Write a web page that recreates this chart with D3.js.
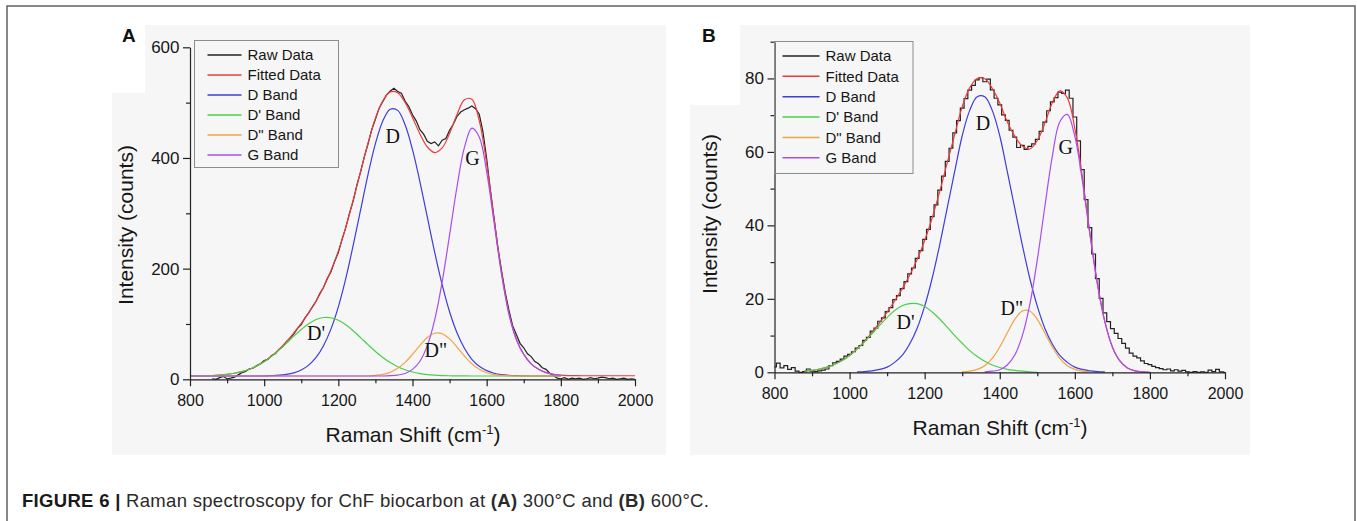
<!DOCTYPE html>
<html>
<head>
	<title>Raman spectroscopy for ChF biocarbon</title>
	<meta charset="utf-8">
	<style>
		body { margin: 0; background: #fff; }
		svg { display: block; font-family: "Liberation Sans", Arial, sans-serif; }
		.axis path, .axis line { stroke: #222; stroke-width: 1.2px; }
		.axis text { font-family: "Liberation Sans", Arial, sans-serif; font-size: 16px; fill: #161616; }
		.axis.yaxis text { font-size: 17px; }
		.line { fill: none; stroke-width: 1.2px; }
		.peak { font-family: "Liberation Serif", "Times New Roman", serif; font-size: 20px; fill: #111; }
		.title { font-size: 21px; fill: #161616; }
		.legend text { font-size: 15px; fill: #161616; }
	</style>
	<script src="https://cdn.jsdelivr.net/npm/d3@7"></script>
</head>
<body>
<svg width="1357" height="521"></svg>
<script>

	// Raman shift grid of the fitted curves (cm-1)
	var shiftGrid = [
		800, 820, 840, 860, 880, 900, 920, 940, 960, 980,
		1000, 1020, 1040, 1060, 1080, 1100, 1120, 1140, 1160, 1180,
		1200, 1220, 1240, 1260, 1280, 1300, 1320, 1340, 1360, 1380,
		1400, 1420, 1440, 1460, 1480, 1500, 1520, 1540, 1560, 1580,
		1600, 1620, 1640, 1660, 1680, 1700, 1720, 1740, 1760, 1780,
		1800, 1820, 1840, 1860, 1880, 1900, 1920, 1940, 1960, 1980,
		2000];

	// panel A, 300 C
	var fitA = [
		6.1, 6.3, 6.5, 6.9, 7.7, 8.9, 10.9, 13.9, 18.2, 24.1,
		32, 42, 54, 68, 84, 101, 120, 141.5, 166.4, 196,
		231.7, 274.6, 323.8, 375.4, 426.6, 471.5, 503.4, 519.5, 518, 500.3,
		473.3, 443.4, 419.8, 409.7, 418.1, 444.4, 478.4, 505.2, 506.1, 467.5,
		390, 290, 193.5, 119.5, 72.5, 45, 28, 18, 12, 9,
		7.5, 6.8, 6.5, 6.4, 6.4, 6.4, 6.4, 6.4, 6.4, 6.4,
		6.4];
	var dBandA = [
		6, 6, 6, 6, 6, 6, 6, 6, 6, 6,
		6, 6.6, 7.4, 8.9, 11.7, 16.8, 25.6, 39.5, 60.7, 90.7,
		131, 182, 242, 306, 370, 426, 467, 488, 486, 460,
		415, 357, 293, 229, 171, 122, 84, 56, 36, 23.4,
		15.6, 11, 8.5, 7.2, 6.5, 6.2, 6, 6, 6, 6,
		6, null, null, null, null, null, null, null, null, null,
		null];
	var d1BandA = [
		6.1, 6.3, 6.5, 6.9, 7.7, 8.9, 10.9, 13.9, 18.2, 24.1,
		31.9, 41.4, 52.7, 65.1, 78, 90, 100.4, 108, 111.7, 111.2,
		106.7, 98.6, 87.8, 75.4, 62.6, 50.3, 39.4, 30.2, 22.7, 17.2,
		13.2, 10.4, 8.6, 7.5, 6.8, 6.4, 6.2, 6.1, 6, 6,
		6, 6, 6, 6, 6, 6, 6, 6, 6, 6,
		6, null, null, null, null, null, null, null, null, null,
		null];
	var d2BandA = [
		6, 6, 6, 6, 6, 6, 6, 6, 6, 6,
		6, 6, 6, 6, 6, 6, 6, 6, 6, 6,
		6, 6, 6, 6, 6, 7.2, 9, 12.8, 19.8, 30.6,
		45.2, 61.4, 75.4, 83.2, 82.3, 73, 58.2, 42.1, 28.1, 18.1,
		11.8, 8.5, 7, 6.3, 6, 6, 6, 6, 6, 6,
		6, null, null, null, null, null, null, null, null, null,
		null];
	var gBandA = [
		6, 6, 6, 6, 6, 6, 6, 6, 6, 6,
		6, 6, 6, 6, 6, 6, 6, 6, 6, 6,
		6, 6, 6, 6, 6, 6, 6, 6.5, 7.6, 10.5,
		17.9, 32.6, 60.8, 108, 176, 261, 348, 419, 454, 438,
		375, 283, 190, 118, 72, 45, 28, 18, 12, 9,
		7.5, null, null, null, null, null, null, null, null, null,
		null];

	var rawShiftA = [
		860, 870, 880, 890, 900, 910, 920, 930, 940, 950,
		960, 970, 980, 990, 1000, 1010, 1020, 1030, 1040, 1050,
		1060, 1070, 1080, 1090, 1100, 1110, 1120, 1130, 1140, 1150,
		1160, 1170, 1180, 1190, 1200, 1210, 1220, 1230, 1240, 1250,
		1260, 1270, 1280, 1290, 1300, 1310, 1320, 1330, 1340, 1350,
		1360, 1370, 1380, 1390, 1400, 1410, 1420, 1430, 1440, 1450,
		1460, 1470, 1480, 1490, 1500, 1510, 1520, 1530, 1540, 1550,
		1560, 1570, 1580, 1590, 1600, 1610, 1620, 1630, 1640, 1650,
		1660, 1670, 1680, 1690, 1700, 1710, 1720, 1730, 1740, 1750,
		1760, 1770, 1780, 1790, 1800, 1810, 1820, 1830, 1840, 1850,
		1860, 1870, 1880, 1890, 1900, 1910, 1920, 1930, 1940, 1950,
		1960, 1970, 1980, 1990, 2000];
	var rawA = [
		1, 0, 3, 5, 1, 2, 4, 8, 12, 14,
		19, 20, 25, 28, 34, 36, 43, 46, 54, 59,
		68, 74, 82, 92, 99, 111, 120, 131, 141, 155,
		166, 182, 194, 213, 229, 253, 274, 300, 322, 351,
		375, 402, 425, 451, 470, 490, 502, 514, 521, 526,
		520, 517, 503, 493, 478, 467, 451, 443, 430, 426,
		429, 422, 432, 435, 450, 461, 475, 483, 487, 490,
		494, 489, 479, 447, 399, 342, 291, 239, 197, 157,
		125, 97, 81, 65, 57, 46, 41, 32, 28, 21,
		18, 11, 7, 2, 1, 3, 0, 2, 1, 2,
		0, 1, 3, 1, 2, 4, 3, 1, 2, 0,
		1, 2, 0, 1, 0];

	// panel B, 600 C
	var fitB = [
		null, null, null, null, 0.3, 0.5, 0.9, 1.4, 2.2, 3.2,
		4.6, 6.4, 8.5, 10.9, 13.5, 16.4, 19.4, 22.7, 26.4, 30.7,
		35.9, 42.0, 49.2, 57.0, 64.7, 72.3, 77.5, 80.0, 79.9, 77.3,
		73.3, 68.2, 64.3, 61.6, 60.8, 63.1, 67.7, 73.4, 76.6, 74.7,
		66.4, 53.2, 38.1, 24.3, 13.8, 6.9, 3.1, 1.2, 0.4, 0.1,
		0, null, null, null, null, null, null, null, null, null,
		null];
	var dBandB = [
		null, null, null, null, null, null, null, null, null, null,
		null, 0.1, 0.2, 0.4, 0.8, 1.4, 2.7, 4.6, 7.7, 12.0,
		18.0, 25.6, 34.7, 44.7, 54.7, 64.4, 71.3, 75.0, 75.0, 71.3,
		64.4, 54.7, 44.7, 34.7, 25.6, 18.0, 12.0, 7.7, 4.6, 2.7,
		1.4, 0.8, 0.4, 0.2, 0.1, null, null, null, null, null,
		null, null, null, null, null, null, null, null, null, null,
		null];
	var d1BandB = [
		null, null, null, null, 0.3, 0.5, 0.9, 1.4, 2.2, 3.2,
		4.6, 6.3, 8.3, 10.5, 12.8, 14.9, 16.8, 18.1, 18.7, 18.7,
		17.9, 16.4, 14.5, 12.3, 10.0, 7.9, 5.9, 4.3, 3.0, 2.0,
		1.3, 0.8, 0.5, 0.3, 0.1, 0, null, null, null, null,
		null, null, null, null, null, null, null, null, null, null,
		null, null, null, null, null, null, null, null, null, null,
		null];
	var d2BandB = [
		null, null, null, null, null, null, null, null, null, null,
		null, null, null, null, null, null, null, null, null, null,
		null, null, null, null, null, 0.1, 0.3, 0.8, 1.8, 3.8,
		6.9, 10.7, 14.4, 16.7, 16.7, 14.4, 10.7, 6.9, 3.8, 1.8,
		0.8, 0.3, 0.1, null, null, null, null, null, null, null,
		null, null, null, null, null, null, null, null, null, null,
		null];
	var gBandB = [
		null, null, null, null, null, null, null, null, null, null,
		null, null, null, null, null, null, null, null, null, null,
		null, null, null, null, null, null, null, null, 0.1, 0.3,
		0.7, 2.0, 4.7, 9.9, 18.4, 30.6, 45.0, 58.8, 68.2, 70.2,
		64.2, 52.2, 37.6, 24.1, 13.7, 6.9, 3.1, 1.2, 0.4, 0.1,
		0, null, null, null, null, null, null, null, null, null,
		null];

	var rawShiftB = [
		800, 810, 820, 830, 840, 850, 860, 870, 880, 890,
		900, 910, 920, 930, 940, 950, 960, 970, 980, 990,
		1000, 1010, 1020, 1030, 1040, 1050, 1060, 1070, 1080, 1090,
		1100, 1110, 1120, 1130, 1140, 1150, 1160, 1170, 1180, 1190,
		1200, 1210, 1220, 1230, 1240, 1250, 1260, 1270, 1280, 1290,
		1300, 1310, 1320, 1330, 1340, 1350, 1360, 1370, 1380, 1390,
		1400, 1410, 1420, 1430, 1440, 1450, 1460, 1470, 1480, 1490,
		1500, 1510, 1520, 1530, 1540, 1550, 1560, 1570, 1580, 1590,
		1600, 1610, 1620, 1630, 1640, 1650, 1660, 1670, 1680, 1690,
		1700, 1710, 1720, 1730, 1740, 1750, 1760, 1770, 1780, 1790,
		1800, 1810, 1820, 1830, 1840, 1850, 1860, 1870, 1880, 1890,
		1900, 1910, 1920, 1930, 1940, 1950, 1960, 1970, 1980, 1990,
		2000];
	var rawB = [
		1.5, 2.5, 1.2, 1.8, 0.8, 1.3, 0.3, 0, 0.2, 0.9,
		0.3, 0.2, 0.4, 0.6, 0.9, 1.8, 2.6, 3.0, 3.6, 4.4,
		4.9, 5.6, 6.6, 7.3, 8.7, 9.5, 11.2, 12.0, 13.9, 14.8,
		16.5, 17.6, 19.8, 20.9, 22.8, 24.7, 26.8, 28.4, 31.0, 33.1,
		36.2, 38.9, 42.4, 45.6, 49.6, 53.4, 57.4, 61.0, 65.2, 68.5,
		71.9, 74.5, 76.8, 78.1, 79.6, 80.2, 79.1, 79.8, 76.9, 74.6,
		72.8, 70.1, 68.6, 65.9, 64.0, 61.2, 61.8, 60.7, 61.5, 62.2,
		63.4, 65.6, 68.1, 71.2, 73.6, 74.8, 76.3, 75.9, 76.8, 74.6,
		69.5, 63.0, 55.2, 47.0, 39.4, 32.2, 25.5, 20.1, 16.2, 13.8,
		11.9, 10.6, 9.2, 7.9, 6.6, 5.2, 4.4, 3.9, 3.1, 2.4,
		2.1, 1.6, 1.3, 1.0, 0.7, 0.9, 0.4, 0.7, 0.3, 0.5,
		0.1, 0, 0.2, 0, 0.1, 0, 0.6, 0.2, 0.8, 0.1,
		0];

	var legendNames = ["Raw Data", "Fitted Data", "D Band", "D' Band", "D\" Band", "G Band"];
	var seriesColors = ["#222222", "#ec3c3c", "#3d3dde", "#48d048", "#f2a444", "#a64ef2"];

	var xTicks = [800, 1000, 1200, 1400, 1600, 1800, 2000];
	var xMinorTicks = [900, 1100, 1300, 1500, 1700, 1900];
	var yTicksA = [0, 200, 400, 600];
	var yMinorA = [100, 300, 500];
	var yTicksB = [0, 20, 40, 60, 80];
	var yMinorB = [10, 30, 50, 70, 90];

	// peak labels, anchored at [shift, intensity]
	var peakNames = ["D", "G", "D'", "D\""];
	var peakPosA = [[1347, 439], [1562, 400], [1140, 83], [1463, 53]];
	var peakPosB = [[1355, 67.8], [1576, 61.4], [1149, 13.8], [1432, 17.5]];

	var svg = d3.select("svg");

	// outer frame of the figure
	svg.append("rect")
		.attr("x", 7).attr("y", 6)
		.attr("width", 1348).attr("height", 540)
		.attr("fill", "#fff")
		.attr("stroke", "#6a6a6a")
		.attr("stroke-width", 1.6);

	function drawPanel(p) {
		var g = svg.append("g");

		g.append("rect").attr("x", p.bg[0]).attr("y", p.bg[1]).attr("width", p.bg[2]).attr("height", p.bg[3]).attr("fill", "#f6f6f6");
		g.append("rect").attr("x", p.bg[0]).attr("y", p.bg[1]).attr("width", p.corner[0]).attr("height", p.corner[1]).attr("fill", "#fff");

		var x = d3.scaleLinear().domain([800, 2000]).range([p.left, p.right]);
		var y = d3.scaleLinear().domain(p.yDomain).range([p.bottom, p.top]);

		var rawLine = d3.line()
			.x(function(d, i) { return x(p.rawX[i]); })
			.y(function(d) { return y(d); })
			.curve(p.rawCurve);

		var fitLine = d3.line()
			.defined(function(d) { return d != null; })
			.x(function(d, i) { return x(shiftGrid[i]); })
			.y(function(d) { return y(d); })
			.curve(d3.curveCatmullRom.alpha(0.5));

		g.append("path")
			.attr("class", "line")
			.attr("stroke", seriesColors[0])
			.attr("d", rawLine(p.raw));

		p.fits.forEach(function(s, k) {
			g.append("path")
				.attr("class", "line")
				.attr("stroke", seriesColors[k + 1])
				.attr("d", fitLine(s));
		});

		// axes
		g.append("g")
			.attr("class", "axis")
			.attr("transform", "translate(0," + p.bottom + ")")
			.call(d3.axisBottom(x).tickValues(xTicks).tickFormat(d3.format("d")).tickSize(7).tickSizeOuter(0).tickPadding(8));
		g.append("g")
			.attr("class", "axis")
			.attr("transform", "translate(0," + p.bottom + ")")
			.call(d3.axisBottom(x).tickValues(xMinorTicks).tickSize(4).tickFormat(""))
			.select(".domain").remove();

		g.append("g")
			.attr("class", "axis yaxis")
			.attr("transform", "translate(" + p.left + ",0)")
			.call(d3.axisLeft(y).tickValues(p.yTicks).tickFormat(d3.format("d")).tickSize(7).tickSizeOuter(0).tickPadding(3.5));
		g.append("g")
			.attr("class", "axis")
			.attr("transform", "translate(" + p.left + ",0)")
			.call(d3.axisLeft(y).tickValues(p.yMinor).tickSize(4).tickFormat(""))
			.select(".domain").remove();

		// axis titles
		var xt = g.append("text")
			.attr("class", "title")
			.attr("x", p.xTitle[0]).attr("y", p.xTitle[1])
			.attr("text-anchor", "middle");
		xt.append("tspan").text("Raman Shift (cm");
		xt.append("tspan").attr("font-size", 13).attr("dy", -8).text("-1");
		xt.append("tspan").attr("dy", 8).text(")");

		g.append("text")
			.attr("class", "title")
			.attr("transform", "translate(" + p.yTitle[0] + "," + p.yTitle[1] + ") rotate(-90)")
			.attr("text-anchor", "middle")
			.text("Intensity (counts)");

		// panel letter
		g.append("text")
			.attr("x", p.letterPos[0]).attr("y", p.letterPos[1])
			.attr("font-size", 19).attr("font-weight", "bold").attr("fill", "#111")
			.text(p.letter);

		// peak names
		g.selectAll(".peak")
			.data(p.peaks)
			.enter().append("text")
				.attr("class", "peak")
				.attr("x", function(d) { return x(d[0]); })
				.attr("y", function(d) { return y(d[1]); })
				.attr("dy", "0.35em")
				.attr("text-anchor", "middle")
				.text(function(d, i) { return peakNames[i]; });

		// legend
		var lg = g.append("g").attr("class", "legend");
		lg.append("rect")
			.attr("x", p.legend[0]).attr("y", p.legend[1])
			.attr("width", p.legend[2]).attr("height", p.legend[3])
			.attr("fill", "none").attr("stroke", "#8c8c8c").attr("stroke-width", 1);

		var row = lg.selectAll(".row")
			.data(legendNames)
			.enter().append("g")
				.attr("class", "row")
				.attr("transform", function(d, i) { return "translate(" + p.legend[0] + "," + (p.legend[1] + p.legendFirst + i * p.legendStep) + ")"; });
		row.append("line")
			.attr("x1", p.legendLine[0]).attr("x2", p.legendLine[1])
			.attr("stroke", function(d, i) { return seriesColors[i]; })
			.attr("stroke-width", 1.5);
		row.append("text")
			.attr("x", p.legendLine[1] + 6)
			.attr("dy", "0.36em")
			.text(function(d) { return d; });
	}

	drawPanel({
		letter: "A", letterPos: [122, 42],
		bg: [112, 25, 554, 430], corner: [33, 68],
		left: 190, right: 635, top: 47.3, bottom: 379.3,
		yDomain: [0, 600], yTicks: yTicksA, yMinor: yMinorA,
		raw: rawA, rawX: rawShiftA, rawCurve: d3.curveLinear,
		fits: [fitA, dBandA, d1BandA, d2BandA, gBandA],
		peaks: peakPosA,
		xTitle: [413, 442], yTitle: [133, 225],
		legend: [194.5, 40.5, 144, 127], legendFirst: 14.5, legendStep: 20, legendLine: [13, 47]
	});

	drawPanel({
		letter: "B", letterPos: [702, 42],
		bg: [690, 25, 560, 430], corner: [50, 80],
		left: 774.5, right: 1225, top: 41.7, bottom: 372.3,
		yDomain: [0, 90], yTicks: yTicksB, yMinor: yMinorB,
		raw: rawB, rawX: rawShiftB, rawCurve: d3.curveStep,
		fits: [fitB, dBandB, d1BandB, d2BandB, gBandB],
		peaks: peakPosB,
		xTitle: [1000, 435], yTitle: [717, 214],
		legend: [774.5, 41.5, 138.5, 132], legendFirst: 14.5, legendStep: 20.35, legendLine: [8, 45]
	});

	// caption
	var cap = svg.append("text")
		.attr("x", 22).attr("y", 507)
		.attr("font-size", 18.5)
		.attr("letter-spacing", 0.3)
		.attr("fill", "#2a2a2a");
	cap.append("tspan").attr("font-weight", "bold").attr("fill", "#1a1a1a").text("FIGURE 6 |");
	cap.append("tspan").text(" Raman spectroscopy for ChF biocarbon at ");
	cap.append("tspan").attr("font-weight", "bold").text("(A)");
	cap.append("tspan").text(" 300\u00b0C and ");
	cap.append("tspan").attr("font-weight", "bold").text("(B)");
	cap.append("tspan").text(" 600\u00b0C.");

</script>
</body>
</html>
